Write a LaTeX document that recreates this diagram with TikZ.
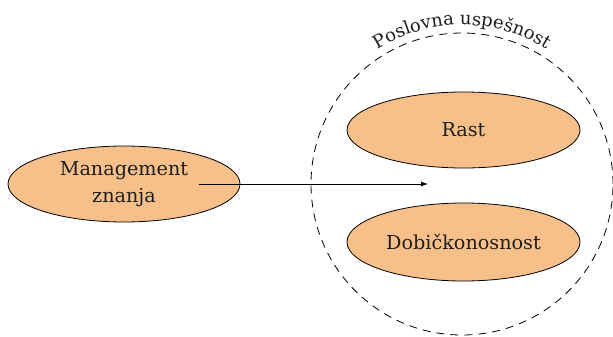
\documentclass[tikz,border=0pt]{standalone}
\usepackage{fontspec}
\setmainfont{DejaVu Serif}
\usetikzlibrary{shapes.geometric,arrows.meta,decorations.text}
\definecolor{ellfill}{RGB}{247,192,138}
\definecolor{txt}{RGB}{30,30,30}
\tikzset{
  ellbox/.style={ellipse, draw=black, line width=0.8pt, fill=ellfill, inner sep=0pt, text=txt,
    minimum width=232pt, align=center, font=\fontsize{19.2}{27}\selectfont},
  conn/.style={line width=0.8pt, -{Latex[length=7pt,width=5pt]}},
  groupring/.style={draw=black, dash pattern=on 8pt off 6pt, line width=0.8pt}
}
\begin{document}
\begin{tikzpicture}[x=1pt,y=1pt]
\useasboundingbox (0,0) rectangle (613,-337);
\node[circle, groupring, minimum size=302pt, inner sep=0pt] (group) at (462,-184) {};
\path[decorate, decoration={text along path, text align=center,
  text={|\fontsize{18}{22}\selectfont\color{txt}|Poslovna uspešnost}}]
  (462,-184) ++(180:159) arc[start angle=180, end angle=0, radius=159];
\node[ellbox, minimum height=76pt] (mz) at (124,-184) {Management\\znanja};
\node[ellbox, minimum height=76pt, minimum width=233pt] (rast) at (463.5,-130) {Rast};
\node[ellbox, minimum height=78pt, minimum width=233pt] (dob) at (463.5,-242) {Dobičkonosnost};
\coordinate (start) at ([xshift=75pt]mz.center);
\coordinate (target) at ([xshift=-34pt]group.center);
\draw[conn] (start) -- (target);
\end{tikzpicture}
\end{document}
